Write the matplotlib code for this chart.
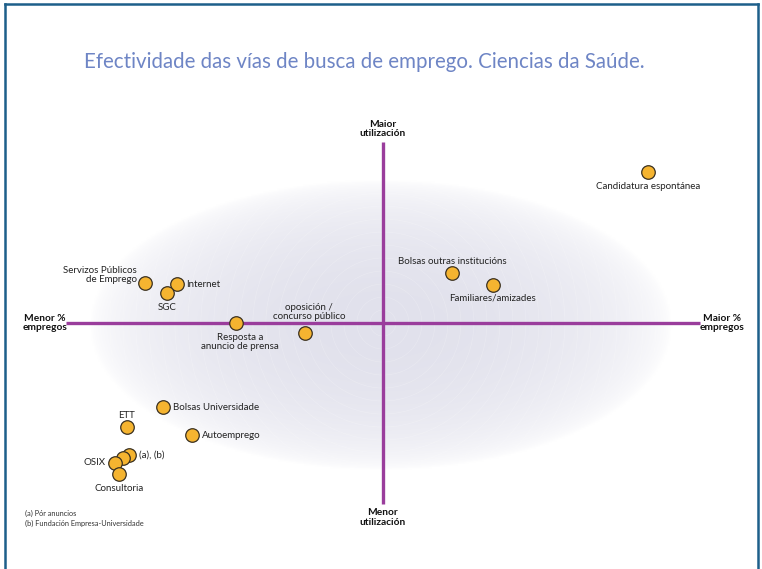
import numpy as np
import matplotlib
matplotlib.use("Agg")
import matplotlib.pyplot as plt
from matplotlib.lines import Line2D
from matplotlib.patches import Ellipse

# vías de busca: x = % empregos, y = utilización (escala -100..100, cruce en 0)
names = ["Candidatura espontánea", "Bolsas outras institucións", "Familiares/amizades",
         "Servizos Públicos\nde Emprego", "Internet", "SGC",
         "Resposta a\nanuncio de prensa", "oposición /\nconcurso público",
         "Bolsas Universidade", "ETT", "Autoemprego",
         "(a), (b)", "", "OSIX", "Consultoria"]
x_vals = [83.6, 21.8, 34.7, -75.1, -65.0, -68.1, -46.4, -24.6,
          -69.4, -80.8, -60.3, -80.1, -82.0, -84.5, -83.3]
y_vals = [83.4, 27.6, 21.0, 22.1, 21.5, 16.6, 0.0, -5.5,
          -46.4, -57.5, -61.9, -72.9, -74.6, -77.3, -83.4]

# label placement (offset in points, ha, va)
label_pos = [((0, -7), "center", "top"), ((0, 5), "center", "bottom"),
             ((0, -6), "center", "top"), ((-6, 6), "right", "center"),
             ((7, 0), "left", "center"), ((0, -7), "center", "top"),
             ((3, -7), "center", "top"), ((3, 9), "center", "bottom"),
             ((7, 0), "left", "center"), ((0, 5), "center", "bottom"),
             ((7, 0), "left", "center"), ((7, 0), "left", "center"),
             ((0, 0), "left", "center"), ((-7, 0), "right", "center"),
             ((0, -7), "center", "top")]

plt.rcParams["font.family"] = ["Lato", "DejaVu Sans"]

fig = plt.figure(figsize=(7.62, 5.69), dpi=100)
ax = fig.add_axes([0, 0, 1, 1])
ax.set_xlim(-120.8, 119.6)
ax.set_ylim(-135.9, 178.5)
ax.axis("off")

# soft elliptical background
gx = np.linspace(-120.8, 119.6, 500)
gy = np.linspace(-135.9, 178.5, 400)
X, Y = np.meshgrid(gx, gy)
r = np.sqrt(((X + 0.6) / 91.8) ** 2 + ((Y + 1.1) / 80.1) ** 2)
inten = np.clip(1 - r ** 2, 0, 1) ** 0.6
center = np.array([225, 225, 236]) / 255.0
img = np.ones(X.shape + (3,)) - inten[..., None] * (1 - center)
ax.imshow(img, extent=[gx[0], gx[-1], gy[0], gy[-1]], origin="lower",
          aspect="auto", zorder=0)

# faint rings
clip = Ellipse((-0.6, -1.1), 2 * 91.8, 2 * 80.1, transform=ax.transData)
for k in range(1, 24):
    rp = 13.0 * k
    ring = Ellipse((0, 0), 2 * rp * 100 / 317, 2 * rp * 100 / 181, fill=False,
                   edgecolor="white", lw=0.5, alpha=0.22, zorder=1)
    ax.add_patch(ring)
    ring.set_clip_path(clip)

purple = "#9a3d9c"
ax.plot([-100, 100], [0, 0], color=purple, lw=2.4, zorder=2, solid_capstyle="butt")
ax.plot([0, 0], [-100, 100], color=purple, lw=2.4, zorder=2, solid_capstyle="butt")

ax.scatter(x_vals, y_vals, s=95, color="#f5b430", edgecolor="#3a3020",
           linewidth=0.9, zorder=3)

for name, xv, yv, (off, ha, va) in zip(names, x_vals, y_vals, label_pos):
    if not name:
        continue
    ax.annotate(name, (xv, yv), xytext=off, textcoords="offset points",
                ha=ha, va=va, fontsize=7, color="#222222", zorder=4,
                linespacing=1.0)

bold = dict(fontsize=7.3, fontweight="bold", color="#111111", ha="center",
            linespacing=1.05)
ax.annotate("Maior\nutilización", (0, 100), xytext=(0, 3), textcoords="offset points",
            va="bottom", **bold)
ax.annotate("Menor\nutilización", (0, -100), xytext=(0, -3), textcoords="offset points",
            va="top", **bold)
ax.annotate("Menor %\nempregos", (-100, 0), xytext=(-15, 0), textcoords="offset points",
            va="center", **bold)
ax.annotate("Maior %\nempregos", (100, 0), xytext=(16, 0), textcoords="offset points",
            va="center", **bold)

fig.text(0.478, 0.891, "Efectividade das vías de busca de emprego. Ciencias da Saúde.",
         ha="center", va="center", fontsize=14.8, color="#6e85c5")

fig.text(0.033, 0.098, "(a) Pór anuncios", fontsize=5.3, color="#333333", va="center")
fig.text(0.033, 0.080, "(b) Fundación Empresa-Universidade", fontsize=5.3,
         color="#333333", va="center")

# frame
frame = "#1d5f8a"
W, H = 762.0, 569.0
for xs, ys in [([5 / W, 758 / W], [1 - 4 / H, 1 - 4 / H]),
               ([5 / W, 5 / W], [0, 1 - 4 / H]),
               ([758 / W, 758 / W], [0, 1 - 4 / H])]:
    fig.add_artist(Line2D(xs, ys, color=frame, lw=1.8, transform=fig.transFigure))

fig.savefig("out.png", dpi=100)
